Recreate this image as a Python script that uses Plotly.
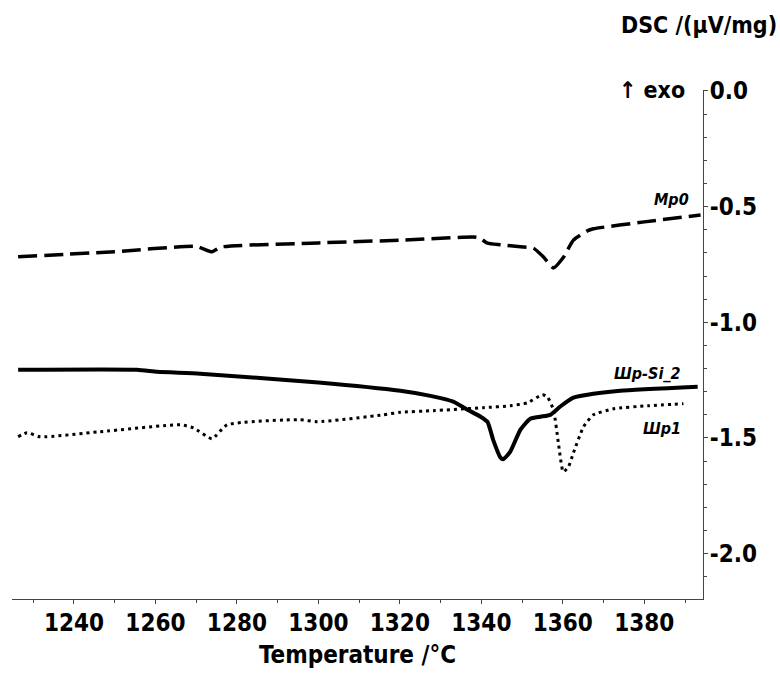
import plotly.graph_objects as go

# ---- data ----
mp0_x = [1226.3, 1250.0, 1270.0, 1273.9, 1276.0, 1300.0, 1320.1, 1338.0, 1339.5, 1341.5,
         1344.7, 1349.6, 1352.8, 1355.2, 1357.7, 1360.1, 1362.6, 1366.0, 1367.5, 1380.0, 1393.8]
mp0_y = [-0.717, -0.695, -0.672, -0.695, -0.675, -0.657, -0.645, -0.631, -0.635, -0.658,
         -0.665, -0.674, -0.680, -0.717, -0.765, -0.720, -0.645, -0.605, -0.596, -0.566, -0.536]

si2_x = [1226.3, 1255.5, 1260.5, 1271.0, 1300.0, 1320.1, 1327.5, 1333.1, 1336.6, 1339.8,
         1341.5, 1342.9, 1344.7, 1345.4, 1347.1, 1349.6, 1352.0, 1354.5, 1356.9, 1359.3,
         1362.6, 1367.5, 1374.1, 1393.1]
si2_y = [-1.205, -1.205, -1.214, -1.222, -1.260, -1.296, -1.318, -1.343, -1.378, -1.408,
         -1.430, -1.508, -1.585, -1.592, -1.559, -1.464, -1.417, -1.408, -1.400, -1.365,
         -1.326, -1.309, -1.296, -1.279]

sh1_x = [1226.3, 1228.5, 1231.7, 1246.4, 1266.1, 1269.3, 1273.9, 1277.6, 1295.5, 1299.7,
         1315.9, 1320.1, 1328.2, 1340.5, 1347.1, 1351.3, 1355.0, 1356.2, 1357.7, 1358.9,
         1360.1, 1361.4, 1362.6, 1365.1, 1367.5, 1372.4, 1380.8, 1389.6]
sh1_y = [-1.495, -1.477, -1.495, -1.473, -1.443, -1.456, -1.503, -1.443, -1.421, -1.430,
         -1.400, -1.389, -1.382, -1.369, -1.361, -1.348, -1.313, -1.322, -1.378, -1.521,
         -1.646, -1.624, -1.564, -1.451, -1.400, -1.374, -1.361, -1.352]

series_names = ["Мр0", "Шр-Si_2", "Шр1"]
x_ticks = [1240, 1260, 1280, 1300, 1320, 1340, 1360, 1380]
y_ticks = [0.0, -0.5, -1.0, -1.5, -2.0]
y_ticklabels = ["0.0", "-0.5", "-1.0", "-1.5", "-2.0"]

FONT = "DejaVu Sans Condensed, Liberation Sans Narrow, sans-serif"

fig = go.Figure()
fig.add_trace(go.Scatter(x=mp0_x, y=mp0_y, mode="lines", name=series_names[0],
                         line=dict(color="black", width=3.5, dash="19px,7px",
                                   shape="spline", smoothing=0.5)))
fig.add_trace(go.Scatter(x=si2_x, y=si2_y, mode="lines", name=series_names[1],
                         line=dict(color="black", width=4, shape="spline", smoothing=0.5)))
fig.add_trace(go.Scatter(x=sh1_x, y=sh1_y, mode="lines", name=series_names[2],
                         line=dict(color="black", width=3, dash="3px,4px",
                                   shape="spline", smoothing=0.5)))

lab_font = dict(family=FONT, size=16, color="black")
fig.add_annotation(x=1391.5, y=-0.47, text="<b><i>" + series_names[0] + "</i></b>",
                   showarrow=False, xanchor="right", yanchor="middle", font=lab_font)
fig.add_annotation(x=1389.5, y=-1.22, text="<b><i>" + series_names[1] + "</i></b>",
                   showarrow=False, xanchor="right", yanchor="middle", font=lab_font)
fig.add_annotation(x=1389.5, y=-1.46, text="<b><i>" + series_names[2] + "</i></b>",
                   showarrow=False, xanchor="right", yanchor="middle", font=lab_font)

fig.add_annotation(xref="paper", yref="paper", x=1.11, y=1.128, text="<b>DSC /(µV/mg)</b>",
                   showarrow=False, xanchor="right", yanchor="middle",
                   font=dict(family=FONT, size=23, color="black"))
fig.add_annotation(xref="paper", yref="paper", x=0.977, y=1.0, text="<b>↑ exo</b>",
                   showarrow=False, xanchor="right", yanchor="middle",
                   font=dict(family=FONT, size=23, color="black"))
fig.add_annotation(xref="paper", yref="paper", x=0.5, y=-0.11, text="<b>Temperature /°C</b>",
                   showarrow=False, xanchor="center", yanchor="middle",
                   font=dict(family=FONT, size=24, color="black"))

tick_font = dict(family=FONT, size=24, color="black", weight="bold")

fig.update_layout(
    width=780, height=678,
    margin=dict(l=12, r=77, t=90, b=79),
    paper_bgcolor="white", plot_bgcolor="white",
    showlegend=False,
    xaxis=dict(range=[1224.8, 1394.4], tickvals=x_ticks, ticks="outside", ticklen=4,
               tickcolor="#444", showline=True, linecolor="#444", linewidth=1,
               showgrid=False, zeroline=False, ticklabelstandoff=-2,
               tickfont=tick_font,
               minor=dict(dtick=10, ticks="outside", ticklen=3, tickcolor="#444")),
    yaxis=dict(range=[-2.196, 0.004], side="right", tickvals=y_ticks, ticktext=y_ticklabels,
               ticks="outside", ticklen=4, tickcolor="#444", showline=True,
               linecolor="#444", linewidth=1, showgrid=False, zeroline=False,
               ticklabelstandoff=-3,
               tickfont=tick_font,
               minor=dict(dtick=0.1, ticks="outside", ticklen=3, tickcolor="#444")),
)

fig.write_html("out.html")
